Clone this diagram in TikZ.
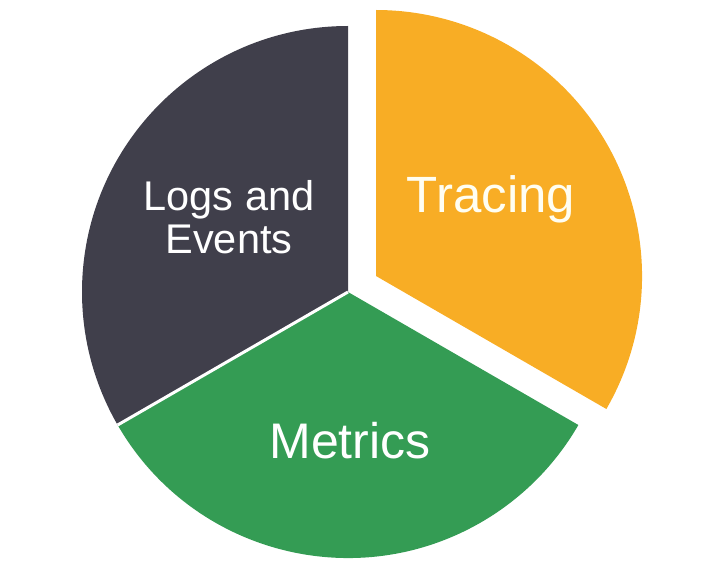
\documentclass[tikz,border=0pt]{standalone}
\usepackage{fontspec}
\setmainfont{Liberation Sans}
\begin{document}
\begin{tikzpicture}[x=1pt,y=1pt,
  label/.style={text=white, inner sep=0pt, align=center}]
\pgfmathsetlengthmacro\radius{266}
\useasboundingbox (0,0) rectangle (726,582);
\coordinate (c) at (348,290);
\coordinate (t) at (376,306);
\definecolor{mycolor}{HTML}{403F4B}
\fill [mycolor] (c) -- ++(90:\radius) arc (90:210:\radius) -- cycle;
\definecolor{mycolor}{HTML}{349C54}
\fill [mycolor] (c) -- ++(210:\radius) arc (210:330:\radius) -- cycle;
\definecolor{mycolor}{HTML}{F8AD25}
\fill [mycolor] (t) -- ++(330:\radius) arc (-30:90:\radius) -- cycle;
\draw [white, line width = 3] (c) -- ++(210:\radius);
\node[label, font=\fontsize{41.5}{43}\selectfont] (logs) at (229,365) {Logs and\\Events};
\node[label, font=\fontsize{51}{55}\selectfont, anchor=base, text=white!95!yellow] (tracing) at (491,369) {Tracing};
\node[label, font=\fontsize{50}{53}\selectfont, anchor=base] (metrics) at (350,124) {Metrics};
\end{tikzpicture}
\end{document}
